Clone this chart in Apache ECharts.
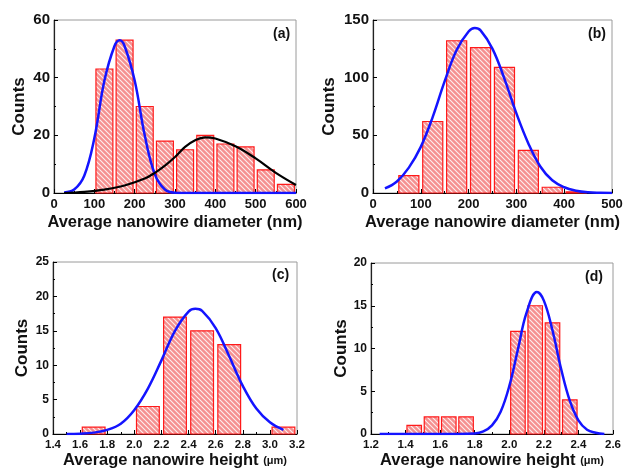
<!DOCTYPE html>
<html>
<head>
<meta charset="utf-8">
<script src="https://cdn.jsdelivr.net/npm/echarts@6/dist/echarts.min.js"></script>
<style>
  html, body { margin: 0; padding: 0; background: #fff; }
  #chart { width: 628px; height: 470px; }
</style>
</head>
<body>
<div id="chart"></div>
<script>
// (a) diameter histogram, 50 nm bins
var aCenters = [125, 175, 225, 275, 325, 375, 425, 475, 525, 575];
var aCounts = [43, 53, 30, 18, 15, 20, 17, 16, 8, 3];
var aBlueX = [25, 50, 75, 100, 125, 150, 163, 175, 200, 225, 250, 275, 300, 350, 400, 450, 500, 550, 600];
var aBlueY = [0.2, 1.2, 6, 19, 39, 51, 53, 51, 39, 20, 6.5, 1.2, 0.1, 0, 0, 0, 0, 0, 0];
var aBlackX = [25, 75, 125, 175, 225, 250, 275, 300, 325, 350, 375, 400, 450, 500, 550, 600];
var aBlackY = [0, 0.4, 1.2, 2.6, 5, 7, 9.5, 12.5, 16, 18.3, 19.3, 18.9, 16.2, 12, 7, 2.8];

// (b) diameter histogram, 50 nm bins
var bCenters = [75, 125, 175, 225, 275, 325, 375, 425];
var bCounts = [15, 62, 132, 126, 109, 37, 5, 1];
var bBlueX = [25, 50, 75, 100, 125, 150, 175, 200, 213, 225, 250, 275, 300, 325, 350, 375, 400, 425, 450, 475, 500];
var bBlueY = [4, 10, 22, 40, 66, 97, 124, 140, 143, 141, 125, 99, 69, 43, 23, 11, 5, 2, 0.6, 0.2, 0.1];

// (c) height histogram, 0.2 um bins
var cCenters = [1.7, 2.1, 2.3, 2.5, 2.7, 3.1];
var cCounts = [1, 4, 17, 15, 13, 1];
var cBlueX = [1.5, 1.6, 1.7, 1.8, 1.9, 2.0, 2.1, 2.2, 2.3, 2.4, 2.45, 2.5, 2.6, 2.7, 2.8, 2.9, 3.0, 3.1];
var cBlueY = [0, 0.05, 0.2, 0.6, 1.5, 3.5, 6.6, 10.7, 15, 17.8, 18.2, 17.9, 15.4, 11.3, 7, 3.7, 1.7, 0.6];

// (d) height histogram, 0.1 um bins
var dCenters = [1.45, 1.55, 1.65, 1.75, 2.05, 2.15, 2.25, 2.35];
var dCounts = [1, 2, 2, 2, 12, 15, 13, 4];
var dBlueX = [1.25, 1.4, 1.6, 1.8, 1.85, 1.9, 1.95, 2.0, 2.05, 2.1, 2.16, 2.2, 2.25, 2.3, 2.35, 2.4, 2.45, 2.5, 2.55];
var dBlueY = [0, 0, 0, 0.07, 0.3, 1, 2.6, 5.6, 9.9, 14.2, 16.6, 15.6, 12.1, 7.6, 3.9, 1.6, 0.5, 0.15, 0];

var binWidths = [50, 50, 0.2, 0.1];

// hatch pattern for the bars
var hatch = document.createElement('canvas');
hatch.width = 5; hatch.height = 5;
var hctx = hatch.getContext('2d');
hctx.fillStyle = '#f59090';
hctx.fillRect(0, 0, 5, 5);
hctx.strokeStyle = 'rgba(255,255,255,0.85)';
hctx.lineWidth = 1.1;
hctx.beginPath();
hctx.moveTo(-1, -1); hctx.lineTo(6, 6);
hctx.moveTo(-1, 4); hctx.lineTo(1, 6);
hctx.moveTo(4, -1); hctx.lineTo(6, 1);
hctx.stroke();

function pairs(xs, ys) {
    var out = [];
    for (var i = 0; i < xs.length; i++) out.push([xs[i], ys[i]]);
    return out;
}

var FONT = 'Liberation Sans, Arial, sans-serif';

function barSeries(idx, centers, counts) {
    var w = binWidths[idx];
    return {
        type: 'custom',
        xAxisIndex: idx,
        yAxisIndex: idx,
        data: pairs(centers, counts),
        renderItem: function (params, api) {
            var c = api.value(0), n = api.value(1);
            var p0 = api.coord([c - w * 0.42, n]);
            var p1 = api.coord([c + w * 0.42, 0]);
            return {
                type: 'rect',
                shape: { x: p0[0], y: p0[1], width: p1[0] - p0[0], height: p1[1] - p0[1] },
                style: { fill: { image: hatch, repeat: 'repeat' }, stroke: '#ff1a1a', lineWidth: 1.2 }
            };
        },
        z: 2
    };
}

function curve(idx, xs, ys, color, width) {
    return {
        type: 'line',
        xAxisIndex: idx,
        yAxisIndex: idx,
        data: pairs(xs, ys),
        smooth: 0.4,
        showSymbol: false,
        clip: true,
        lineStyle: { color: color, width: width },
        z: 3
    };
}

function xAxis(idx, min, max, step, name, labelSize, nameGap, fmt) {
    return {
        type: 'value', gridIndex: idx, min: min, max: max, interval: step,
        name: name, nameLocation: 'middle', nameGap: nameGap,
        nameTextStyle: {
            fontFamily: FONT, fontWeight: 'bold', fontSize: 16.5, color: '#111',
            rich: {
                s: { fontFamily: FONT, fontWeight: 'bold', fontSize: 11, color: '#111' }
            }
        },
        axisLine: { show: true, lineStyle: { color: '#000', width: 1.2 } },
        axisTick: { show: true, inside: true, length: 4, lineStyle: { color: '#000' } },
        minorTick: { show: true, splitNumber: 2, length: 2, lineStyle: { color: '#000' } },
        splitLine: { show: false },
        axisLabel: {
            fontFamily: FONT, fontWeight: 'bold', fontSize: labelSize, color: '#111', margin: 5,
            showMinLabel: true, showMaxLabel: true,
            formatter: fmt
        }
    };
}

function yAxis(idx, max, step, labelSize, nameGap) {
    return {
        type: 'value', gridIndex: idx, min: 0, max: max, interval: step,
        name: 'Counts', nameLocation: 'middle', nameGap: nameGap,
        nameTextStyle: { fontFamily: FONT, fontWeight: 'bold', fontSize: 17, color: '#111' },
        axisLine: { show: true, lineStyle: { color: '#222', width: 1.2 } },
        axisTick: { show: true, inside: true, length: 4, lineStyle: { color: '#000' } },
        minorTick: { show: true, splitNumber: 2, length: 2, lineStyle: { color: '#000' } },
        splitLine: { show: false },
        axisLabel: { fontFamily: FONT, fontWeight: 'bold', fontSize: labelSize, color: '#111', margin: 4 }
    };
}

var fix1 = function (v) { return v.toFixed(1); };
var int0 = function (v) { return String(v); };

var gridStyle = { show: true, borderColor: '#9a9a9a', borderWidth: 1, backgroundColor: 'transparent' };

var chart = echarts.init(document.getElementById('chart'), null, { renderer: 'canvas' });

chart.setOption({
    animation: false,
    backgroundColor: '#fff',
    grid: [
        Object.assign({ left: 54, top: 20, width: 242, height: 173 }, gridStyle),
        Object.assign({ left: 373, top: 20, width: 239, height: 173 }, gridStyle),
        Object.assign({ left: 53, top: 262, width: 244, height: 173 }, gridStyle),
        Object.assign({ left: 371, top: 263, width: 242, height: 173 }, gridStyle)
    ],
    xAxis: [
        xAxis(0, 0, 600, 100, 'Average nanowire diameter (nm)', 13, 21, int0),
        xAxis(1, 0, 500, 100, 'Average nanowire diameter (nm)', 13, 21, int0),
        xAxis(2, 1.4, 3.2, 0.2, 'Average nanowire height {s|(μm)}', 11.5, 18, fix1),
        xAxis(3, 1.2, 2.6, 0.2, 'Average nanowire height {s|(μm)}', 11.5, 18, fix1)
    ],
    yAxis: [
        yAxis(0, 60, 20, 15, 26),
        yAxis(1, 150, 50, 15, 35),
        yAxis(2, 25, 5, 12, 22),
        yAxis(3, 20, 5, 12, 20)
    ],
    graphic: [
        { type: 'text', left: 273, top: 27, style: { text: '(a)', font: 'bold 14px ' + FONT, fill: '#111' } },
        { type: 'text', left: 588, top: 27, style: { text: '(b)', font: 'bold 14px ' + FONT, fill: '#111' } },
        { type: 'text', left: 272, top: 268, style: { text: '(c)', font: 'bold 14px ' + FONT, fill: '#111' } },
        { type: 'text', left: 585, top: 270, style: { text: '(d)', font: 'bold 14px ' + FONT, fill: '#111' } }
    ],
    series: [
        barSeries(0, aCenters, aCounts),
        curve(0, aBlueX, aBlueY, '#1414ff', 2.5),
        curve(0, aBlackX, aBlackY, '#000', 2.2),
        barSeries(1, bCenters, bCounts),
        curve(1, bBlueX, bBlueY, '#1414ff', 2.5),
        barSeries(2, cCenters, cCounts),
        curve(2, cBlueX, cBlueY, '#1414ff', 2.5),
        barSeries(3, dCenters, dCounts),
        curve(3, dBlueX, dBlueY, '#1414ff', 2.5)
    ]
});
</script>
</body>
</html>
